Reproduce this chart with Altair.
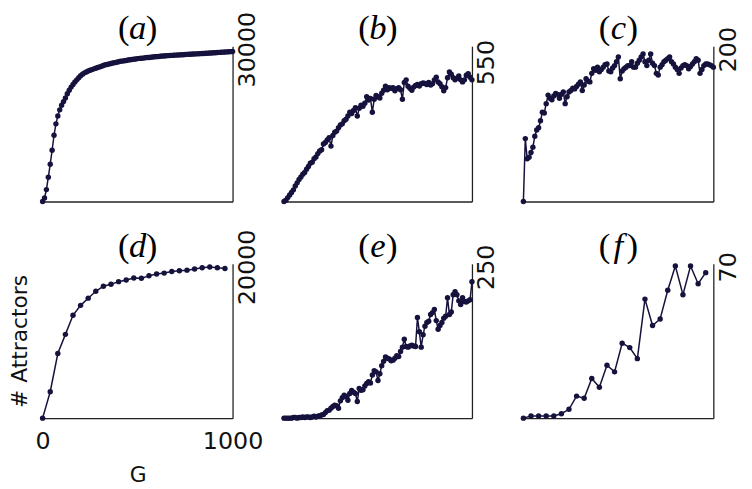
import altair as alt
import pandas as pd

# ---------------- data ----------------
G_DENSE = list(range(0, 1001, 10))
G_SPARSE = list(range(0, 961, 40))

A_VALUES = [
    0, 700, 2300, 4700, 7200, 9900, 12800, 15000, 16500, 17700,
    18600, 19300, 20000, 20800, 21500, 22100, 22600, 23100, 23500, 23900,
    24300, 24600, 24850, 25000, 25200, 25350, 25480, 25620, 25750, 25880,
    26000, 26120, 26280, 26400, 26480, 26580, 26650, 26750, 26820, 26900,
    27000, 27080, 27120, 27200, 27250, 27320, 27380, 27420, 27500, 27540,
    27600, 27640, 27680, 27700, 27760, 27800, 27830, 27870, 27900, 27950,
    27980, 28020, 28050, 28100, 28120, 28150, 28180, 28200, 28220, 28260,
    28280, 28300, 28320, 28340, 28360, 28400, 28420, 28440, 28450, 28480,
    28500, 28520, 28540, 28560, 28580, 28600, 28630, 28650, 28680, 28700,
    28720, 28740, 28780, 28800, 28820, 28850, 28870, 28900, 28920, 28950,
    28980,
]

B_VALUES = [
    0, 5, 15, 25, 35, 45, 60, 72, 85, 95,
    105, 112, 125, 135, 148, 152, 165, 172, 185, 195,
    200, 222, 228, 238, 246, 214, 255, 268, 272, 285,
    296, 300, 312, 318, 330, 345, 340, 352, 362, 330,
    360, 372, 368, 380, 405, 392, 398, 345, 395, 410,
    405, 400, 418, 430, 445, 432, 440, 437, 440, 428,
    436, 440, 432, 395, 460, 470, 445, 438, 430, 442,
    448, 452, 446, 455, 458, 456, 452, 460, 450, 455,
    470, 480, 462, 455, 443, 428, 440, 478, 500, 492,
    478, 470, 476, 485, 470, 462, 470, 488, 494, 480,
    470,
]

C_VALUES = [
    0, 81, 55, 57, 63, 70, 84, 92, 95, 104,
    115, 114, 126, 137, 133, 131, 136, 139, 138, 133,
    138, 141, 126, 135, 141, 143, 146, 145, 148, 151,
    154, 143, 150, 158, 155, 154, 165, 171, 169, 173,
    167, 170, 173, 176, 177, 168, 167, 172, 175, 180,
    186, 158, 168, 171, 173, 175, 175, 180, 173, 173,
    178, 182, 186, 190, 180, 175, 182, 190, 178, 175,
    165, 163, 173, 176, 180, 182, 184, 186, 180, 177,
    173, 170, 165, 172, 175, 176, 175, 171, 174, 177,
    180, 184, 182, 165, 170, 175, 177, 177, 176, 175,
    173,
]

D_VALUES = [
    0, 3420, 8370, 10860, 13330, 14620, 15550, 16450, 17090, 17350,
    17690, 17910, 18160, 18120, 18460, 18680, 18800, 19010, 19100, 19180,
    19320, 19490, 19580, 19490, 19400,
]

E_VALUES = [
    0, 0, 0, 0, 0, 1, 1, 0, 1, 1,
    2, 1, 2, 2, 1, 2, 3, 2, 3, 4,
    5, 6, 9, 12, 13, 16, 19, 21, 20, 16,
    28, 33, 37, 35, 29, 40, 45, 42, 40, 27,
    48, 45, 46, 52, 56, 59, 57, 70, 77, 75,
    61, 72, 85, 92, 99, 97, 96, 93, 94, 97,
    101, 100, 108, 115, 128, 116, 115, 117, 118, 117,
    116, 163, 140, 115, 135, 149, 155, 157, 168, 171,
    176, 158, 144, 150, 155, 162, 165, 195, 168, 172,
    200, 205, 200, 190, 184, 195, 189, 188, 190, 192,
    221,
]

F_VALUES = [
    0, 1, 1, 1, 1, 2, 4, 10, 9, 18, 14, 24, 21, 34, 32, 27, 54, 42, 45, 58,
    69, 56, 69, 61, 66,
]

LETTERS = ["a", "b", "c", "d", "e", "f"]
Y_MAX = [30000, 600, 200, 20000, 250, 70]
Y_TICK = [30000, 550, 200, 20000, 250, 70]
X_LABELS = [0, 1000]
X_MID = 500

# ---------------- style ----------------
COLOR = "#15123d"
SANS = "DejaVu Sans"
SERIF = "Liberation Serif"
WIDTHS = [192, 190, 192, 192, 190, 192]
HEIGHTS = [157, 157, 157, 156, 156, 156]


def panel(g, v, idx, labelled=False):
    df = pd.DataFrame({"G": g, "v": v})
    if labelled:
        x_axis = alt.Axis(values=X_LABELS, format="d", ticks=False, grid=False,
                          labelFlush=False, labelFontSize=24, labelPadding=12,
                          title="G", titleFontSize=22, titleFontWeight="normal",
                          titlePadding=11)
    else:
        x_axis = alt.Axis(labels=False, ticks=False, grid=False, title=None)
    xscale = alt.Scale(domain=[0, 1000], nice=False)
    yscale = alt.Scale(domain=[0, Y_MAX[idx]], nice=False)
    right_axis = alt.Axis(orient="right", values=[Y_TICK[idx]], format="d", ticks=False,
                          grid=False, labelAngle=270, labelAlign="center",
                          labelBaseline="top", labelPadding=3, labelOffset=3,
                          labelFontSize=24, title=None)
    x = alt.X("G:Q", scale=xscale, axis=x_axis)
    pts = alt.Chart(df).mark_circle(color=COLOR, size=30, opacity=1).encode(
        x=x, y=alt.Y("v:Q", scale=yscale, axis=right_axis))

    def label_part(text, italic, dx):
        return alt.Chart(pd.DataFrame({"t": [text]})).mark_text(
            font=SERIF, fontStyle="italic" if italic else "normal", fontSize=35,
            baseline="alphabetic", align="center", dx=dx, dy=-7, color="black"
        ).encode(
            x=alt.XDatum(X_MID, type="quantitative", scale=xscale, axis=x_axis),
            y=alt.YDatum(Y_MAX[idx], type="quantitative", scale=yscale, axis=right_axis),
            text="t:N",
        )

    labels = [label_part("(", False, -14), label_part(LETTERS[idx], True, 0),
              label_part(")", False, 14)]
    if labelled:
        left_axis = alt.Axis(orient="left", domain=False, ticks=False, labels=False,
                             grid=False, title="# Attractors", titleFontSize=22,
                             titleFontWeight="normal", titlePadding=11)
        line = alt.Chart(df).mark_line(color=COLOR, strokeWidth=1.5).encode(
            x=x, y=alt.Y("v:Q", scale=yscale, axis=left_axis))
        ch = alt.layer(line, alt.layer(pts, *labels)).resolve_axis(y="independent")
    else:
        line = alt.Chart(df).mark_line(color=COLOR, strokeWidth=1.5).encode(
            x=x, y=alt.Y("v:Q", scale=yscale, axis=right_axis))
        ch = alt.layer(line, pts, *labels)
    return ch.properties(width=WIDTHS[idx], height=HEIGHTS[idx])


charts = [
    panel(G_DENSE, A_VALUES, 0),
    panel(G_DENSE, B_VALUES, 1),
    panel(G_DENSE, C_VALUES, 2),
    panel(G_SPARSE, D_VALUES, 3, labelled=True),
    panel(G_DENSE, E_VALUES, 4),
    panel(G_SPARSE, F_VALUES, 5),
]

chart = alt.concat(
    *charts, columns=3, spacing={"row": 63, "column": 52}, bounds="flush", align="each"
).properties(
    padding={"left": 0, "top": 0, "right": 4, "bottom": 0}
).configure_view(stroke=None).configure_axis(
    domainColor="#222222", domainWidth=1.3, labelColor="#111111", titleColor="#111111",
    labelFont=SANS, titleFont=SANS,
)

chart.save("out.html", embed_options={"renderer": "svg", "actions": False})
